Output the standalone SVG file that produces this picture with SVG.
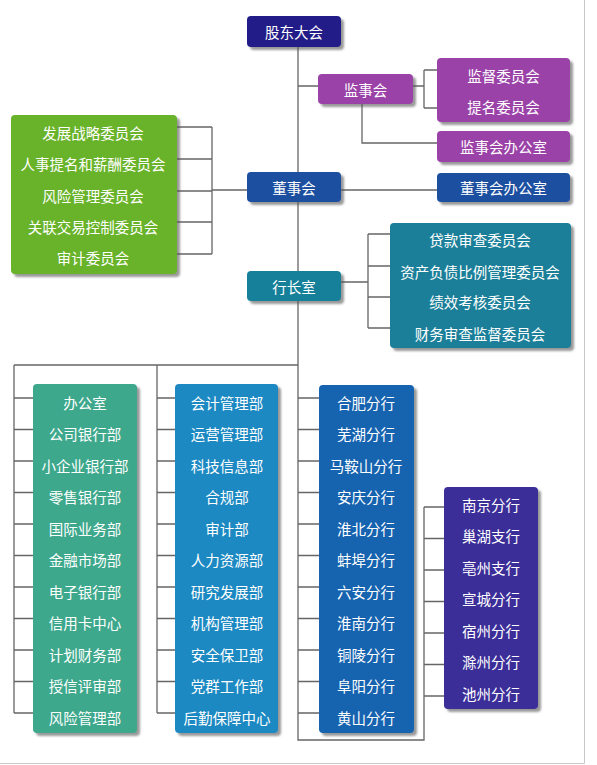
<svg xmlns="http://www.w3.org/2000/svg" width="597" height="765" viewBox="0 0 597 765">
<defs>
<filter id="sh" x="-10%" y="-10%" width="130%" height="130%">
<feDropShadow dx="3" dy="3" stdDeviation="1.2" flood-color="#555" flood-opacity="0.6"/>
</filter>
<style>
.b{filter:url(#sh)}
.t{font-family:"Noto Sans CJK SC","Noto Sans",sans-serif;font-size:14.5px;fill:#fff;text-anchor:middle;dominant-baseline:central}
.c{fill:none;stroke:#666;stroke-width:1.3}
.f{fill:none;stroke:#c8c8c8;stroke-width:1}
</style>
</defs>
<rect width="597" height="765" fill="#fff"/>
<path class="f" d="M584.5,0 V763.5 H0"/>
<g id="connectors">
<path class="c" d="M298,47 V365 M298,86 H318 M413,86 H424 M424,70 V108 M424,70 H437 M424,108 H437 M362,104 V143 H437"/>
<path class="c" d="M177,127 H212 M177,159 H212 M177,191 H212 M177,222 H212 M177,254 H212 M212,127 V254 M212,190 H247 M341,190 H437"/>
<path class="c" d="M341,282 H368 M368,234 V328 M368,234 H390 M368,266 H390 M368,297 H390 M368,328 H390"/>
<path class="c" d="M14,365 H298 M14,365 V713 M157,365 V713 M298,365 V740 H424 V507"/>
<path class="c" d="M14,398 H33 M14,429.5 H33 M14,461 H33 M14,492.5 H33 M14,524 H33 M14,555.5 H33 M14,587 H33 M14,618.5 H33 M14,650 H33 M14,681.5 H33 M14,713 H33"/>
<path class="c" d="M157,398 H175 M157,429.5 H175 M157,461 H175 M157,492.5 H175 M157,524 H175 M157,555.5 H175 M157,587 H175 M157,618.5 H175 M157,650 H175 M157,681.5 H175 M157,713 H175"/>
<path class="c" d="M298,398 H319 M298,429.5 H319 M298,461 H319 M298,492.5 H319 M298,524 H319 M298,555.5 H319 M298,587 H319 M298,618.5 H319 M298,650 H319 M298,681.5 H319 M298,713 H319"/>
<path class="c" d="M424,507 H444 M424,538.5 H444 M424,570 H444 M424,601.5 H444 M424,633 H444 M424,664.5 H444 M424,696 H444"/>
</g>
<g id="gudong"><rect class="b" x="247" y="16" width="94" height="31" rx="4" fill="#201b88"/><text class="t" x="294" y="31.5">股东大会</text></g>
<g id="jianshihui"><rect class="b" x="318" y="74" width="95" height="30" rx="4" fill="#9b42a8"/><text class="t" x="365.5" y="89">监事会</text></g>
<g id="jianshi-weiyuan"><rect class="b" x="437" y="58" width="133" height="64" rx="4" fill="#9b42a8"/><text class="t" x="503.5" y="75">监督委员会</text><text class="t" x="503.5" y="106">提名委员会</text></g>
<g id="jianshi-office"><rect class="b" x="437" y="131" width="133" height="31" rx="4" fill="#9b42a8"/><text class="t" x="503.5" y="146.5">监事会办公室</text></g>
<g id="dongshihui"><rect class="b" x="247" y="172" width="94" height="30" rx="4" fill="#1e4fa0"/><text class="t" x="294" y="187">董事会</text></g>
<g id="dongshi-office"><rect class="b" x="437" y="173" width="133" height="29" rx="4" fill="#1e4fa0"/><text class="t" x="503.5" y="187.5">董事会办公室</text></g>
<g id="dongshi-committees"><rect class="b" x="11" y="115" width="166" height="159" rx="4" fill="#67b32b"/>
<text class="t" x="93" y="132">发展战略委员会</text><text class="t" x="93" y="163">人事提名和薪酬委员会</text><text class="t" x="93" y="195">风险管理委员会</text><text class="t" x="93" y="226">关联交易控制委员会</text><text class="t" x="93" y="257">审计委员会</text></g>
<g id="hangzhangshi"><rect class="b" x="247" y="271" width="94" height="30" rx="4" fill="#17809a"/><text class="t" x="294" y="286">行长室</text></g>
<g id="hangzhang-committees"><rect class="b" x="390" y="223" width="181" height="125" rx="4" fill="#1a7f99"/>
<text class="t" x="480" y="239">贷款审查委员会</text><text class="t" x="480" y="271">资产负债比例管理委员会</text><text class="t" x="480" y="301">绩效考核委员会</text><text class="t" x="480" y="333">财务审查监督委员会</text></g>
<g id="col1"><rect class="b" x="33" y="384" width="104" height="349" rx="4" fill="#3da88c"/>
<text class="t" x="85" y="402">办公室</text><text class="t" x="85" y="433.5">公司银行部</text><text class="t" x="85" y="465">小企业银行部</text><text class="t" x="85" y="496.5">零售银行部</text><text class="t" x="85" y="528">国际业务部</text><text class="t" x="85" y="559.5">金融市场部</text><text class="t" x="85" y="591">电子银行部</text><text class="t" x="85" y="622.5">信用卡中心</text><text class="t" x="85" y="654">计划财务部</text><text class="t" x="85" y="685.5">授信评审部</text><text class="t" x="85" y="717">风险管理部</text></g>
<g id="col2"><rect class="b" x="175" y="384" width="103" height="349" rx="4" fill="#1e89c2"/>
<text class="t" x="227" y="402">会计管理部</text><text class="t" x="227" y="433.5">运营管理部</text><text class="t" x="227" y="465">科技信息部</text><text class="t" x="227" y="496.5">合规部</text><text class="t" x="227" y="528">审计部</text><text class="t" x="227" y="559.5">人力资源部</text><text class="t" x="227" y="591">研究发展部</text><text class="t" x="227" y="622.5">机构管理部</text><text class="t" x="227" y="654">安全保卫部</text><text class="t" x="227" y="685.5">党群工作部</text><text class="t" x="227" y="717">后勤保障中心</text></g>
<g id="col3"><rect class="b" x="319" y="385" width="95" height="348" rx="4" fill="#1664b0"/>
<text class="t" x="366" y="402">合肥分行</text><text class="t" x="366" y="433.5">芜湖分行</text><text class="t" x="366" y="465">马鞍山分行</text><text class="t" x="366" y="496.5">安庆分行</text><text class="t" x="366" y="528">淮北分行</text><text class="t" x="366" y="559.5">蚌埠分行</text><text class="t" x="366" y="591">六安分行</text><text class="t" x="366" y="622.5">淮南分行</text><text class="t" x="366" y="654">铜陵分行</text><text class="t" x="366" y="685.5">阜阳分行</text><text class="t" x="366" y="717">黄山分行</text></g>
<g id="col4"><rect class="b" x="444" y="487" width="94" height="222" rx="4" fill="#3a2f99"/>
<text class="t" x="491" y="504">南京分行</text><text class="t" x="491" y="535.5">巢湖支行</text><text class="t" x="491" y="567">亳州支行</text><text class="t" x="491" y="598.5">宣城分行</text><text class="t" x="491" y="630">宿州分行</text><text class="t" x="491" y="661.5">滁州分行</text><text class="t" x="491" y="693">池州分行</text></g>
</svg>
